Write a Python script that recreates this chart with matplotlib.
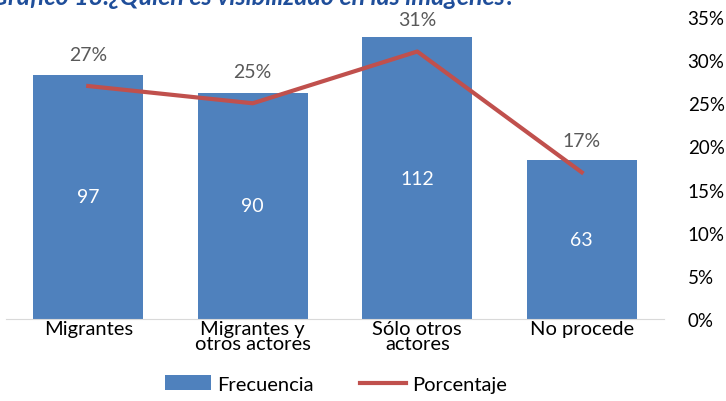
import numpy as np
import matplotlib.pyplot as plt
from matplotlib.ticker import FuncFormatter

plt.rcParams['font.family'] = ['Lato', 'DejaVu Sans']

categorias = ['Migrantes', 'Migrantes y\notros actores', 'Sólo otros\nactores', 'No procede']
frecuencia = [97, 90, 112, 63]
porcentaje = [27, 25, 31, 17]

azul = '#4F81BD'
rojo = '#C0504D'

fig = plt.figure(figsize=(7.26, 4.02), dpi=100)
ax = fig.add_axes([6/726, 82/402, 658/726, 302/402])
x = np.arange(len(categorias))

bars = ax.bar(x, frecuencia, width=0.67, color=azul, label='Frecuencia', zorder=2)
ax.set_ylim(0, 120)
ax.set_xlim(-0.5, len(categorias) - 0.5)
for b, v in zip(bars, frecuencia):
    ax.text(b.get_x() + b.get_width()/2, v/2, str(v), ha='center', va='center',
            color='white', fontsize=14)
ax.set_yticks([])
for s in ['top', 'right', 'left']:
    ax.spines[s].set_visible(False)
ax.spines['bottom'].set_color('#D9D9D9')
ax.set_xticks(x)
ax.set_xticklabels(categorias, fontsize=14.5, linespacing=0.8)
ax.tick_params(axis='x', length=0, pad=1)

ax2 = ax.twinx()
ax2.plot(x, porcentaje, color=rojo, linewidth=3, label='Porcentaje', zorder=3)
ax2.set_ylim(0, 35)
ax2.set_yticks(np.arange(0, 36, 5))
ax2.yaxis.set_major_formatter(FuncFormatter(lambda v, p: f'{v:.0f}%'))
ax2.tick_params(axis='y', length=0, pad=17, labelsize=13.5)
for s in ['top', 'right', 'left', 'bottom']:
    ax2.spines[s].set_visible(False)
for xi, p in zip(x, porcentaje):
    ax2.annotate(f'{p}%', (xi, p), xytext=(0, 23), textcoords='offset points',
                 ha='center', va='center', color='#595959', fontsize=14)

fig.text(-0.012, 1 - 5/402, 'Gráfico 13.¿Quién es visibilizado en las imágenes?',
         color='#1F4E9A', fontsize=18, fontweight='bold', fontstyle='italic',
         ha='left', va='baseline')

h1, l1 = ax.get_legend_handles_labels()
h2, l2 = ax2.get_legend_handles_labels()
fig.legend(h1 + h2, l1 + l2, loc='center', bbox_to_anchor=(336/726, 1 - 385/402),
           ncol=2, frameon=False, fontsize=14.5, handlelength=2.3, handletextpad=0.3,
           columnspacing=2.3)

fig.savefig('out.png', dpi=100)
